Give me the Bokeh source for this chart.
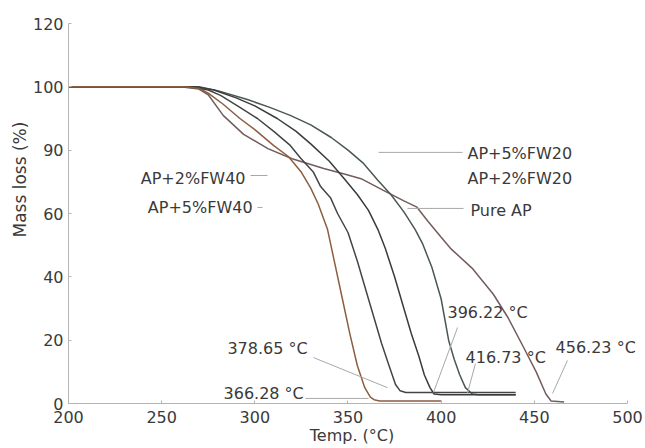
from bokeh.plotting import figure
from bokeh.models import Range1d, Label, FixedTicker, Title
from bokeh.embed import file_html
from bokeh.resources import INLINE

# ---- data ----
t_5fw40 = [200, 262, 270, 275, 283, 292, 300, 310, 318, 325, 330, 334, 339, 343, 347, 351, 355, 359, 362, 364, 367, 400]
m_5fw40 = [100, 100, 99.5, 98, 94.5, 90, 86.5, 81.5, 78, 73, 68, 63, 55, 44, 33, 22, 12, 5, 2, 1.2, 0.8, 0.8]

t_2fw40 = [200, 265, 275, 281.6, 292, 301.4, 310, 319, 324.5, 331.5, 335.3, 340.6, 344.4, 350, 355, 360, 365, 368, 372, 375.5, 378, 381, 440]
m_2fw40 = [100, 100, 99, 97.3, 93.5, 90, 86, 81.5, 77.5, 73, 68.5, 65, 60, 54, 45, 35, 25, 19, 12, 6, 4, 3.5, 3.5]

t_2fw20 = [200, 268, 278, 290, 300, 312, 322, 330, 340, 348, 355, 361, 366, 370, 375, 380, 384, 388, 391, 394, 396.2, 400, 440]
m_2fw20 = [100, 100, 99, 96.5, 94, 90, 86, 82, 76.5, 71, 66, 61, 55, 49, 40, 30, 22, 15, 9, 5, 3, 2.8, 2.8]

t_5fw20 = [200, 270, 280, 296, 308, 319, 330, 341, 350, 358, 366, 373, 380, 386, 390, 395, 400, 404, 407, 410, 413, 416.7, 420, 440]
m_5fw20 = [100, 100, 98.8, 96, 93.5, 91, 88, 84, 80, 76, 70.5, 66, 60.5, 55, 50.5, 43, 33, 20, 14, 9, 5, 3, 2.8, 2.8]

t_pure = [200, 260, 270, 275, 283, 294, 307, 320, 337, 348, 357, 369, 380, 387, 393, 400, 405, 417, 428, 436, 444, 451, 456.2, 459, 466]
m_pure = [100, 100, 99.3, 97.5, 91, 85, 80.5, 77.3, 74.2, 72.5, 71, 67.3, 64, 62, 57.5, 52.5, 49, 42.5, 34.5, 27, 18, 10, 3, 0.8, 0.5]

x_ticks = [200, 250, 300, 350, 400, 450, 500]
y_ticks = [0, 20, 40, 60, 80, 100, 120]
y_tick_labels = ["0", "20", "40", "60", "90", "100", "120"]

series_names = ["AP+5%FW20", "AP+2%FW20", "Pure AP", "AP+2%FW40", "AP+5%FW40"]
end_labels = ["396.22 °C", "416.73 °C", "456.23 °C", "378.65 °C", "366.28 °C"]

FONT = "DejaVu Sans"
TXT = "#3a3a3a"

p = figure(width=645, height=448, output_backend="svg", toolbar_location=None,
           x_range=Range1d(200, 504.3), y_range=Range1d(0, 120),
           min_border_left=68, min_border_right=10, min_border_top=23, min_border_bottom=45)
p.outline_line_color = None
p.xgrid.visible = False
p.ygrid.visible = False
p.background_fill_color = "white"

for ax in (p.xaxis[0], p.yaxis[0]):
    ax.axis_line_color = "#b5b5b5"
    ax.major_tick_line_color = "#b5b5b5"
    ax.major_tick_in = 3
    ax.major_tick_out = 0
    ax.minor_tick_line_color = None
    ax.major_label_text_font = FONT
    ax.major_label_text_font_size = "16px"
    ax.major_label_text_color = TXT

p.xaxis[0].bounds = (200, 500)
p.xaxis[0].ticker = FixedTicker(ticks=x_ticks)
p.yaxis[0].ticker = FixedTicker(ticks=y_ticks)
p.yaxis[0].major_label_overrides = {t: l for t, l in zip(y_ticks, y_tick_labels)}
p.xaxis[0].major_label_standoff = 7
p.yaxis[0].major_label_standoff = 5

p.xaxis[0].axis_label = "Temp. (°C)"
p.xaxis[0].axis_label_standoff = 0
p.xaxis[0].axis_label_text_font = FONT
p.xaxis[0].axis_label_text_font_size = "16px"
p.xaxis[0].axis_label_text_font_style = "normal"
p.xaxis[0].axis_label_text_color = TXT

p.add_layout(Title(text="Mass loss (%)", align="left", offset=166, standoff=0,
                   text_font=FONT, text_font_size="17px", text_font_style="normal",
                   text_color=TXT), "left")

# curves
p.line(t_pure, m_pure, line_color="#735c5c", line_width=1.5)
p.line(t_5fw20, m_5fw20, line_color="#4a5853", line_width=1.5)
p.line(t_2fw20, m_2fw20, line_color="#383c3e", line_width=1.5)
p.line(t_2fw40, m_2fw40, line_color="#454545", line_width=1.5)
p.line(t_5fw40, m_5fw40, line_color="#8c5e40", line_width=1.5)

# leader lines
lead_x0 = [366.4, 381.9, 297.7, 301.4, 408.8, 418.4, 467.8, 331.5, 327.2]
lead_y0 = [79.3, 61.6, 72.0, 61.9, 24.0, 12.6, 13.6, 14.5, 1.6]
lead_x1 = [411.5, 412.0, 306.8, 304.1, 395.9, 414.1, 459.8, 371.2, 361.0]
lead_y1 = [79.3, 61.6, 72.0, 61.9, 3.5, 3.2, 3.2, 5.0, 1.6]
p.segment(lead_x0, lead_y0, lead_x1, lead_y1, line_color="#a8a8a8", line_width=1)

def lab(x, y, text, align="left", size="16px"):
    p.add_layout(Label(x=x, y=y, text=text, text_font=FONT, text_font_size=size,
                       text_color=TXT, text_align=align, text_baseline="middle"))

# series labels
lab(414.1, 78.9, series_names[0])
lab(414.1, 71.1, series_names[1])
lab(415.7, 60.9, series_names[2])
lab(295.0, 71.1, series_names[3], align="right")
lab(298.8, 61.9, series_names[4], align="right")

# end temperatures
lab(403.4, 28.7, end_labels[0])
lab(413.1, 14.5, end_labels[1])
lab(461.4, 17.7, end_labels[2])
lab(285.3, 17.4, end_labels[3])
lab(283.2, 3.2, end_labels[4])

open("out.html", "w").write(file_html(p, INLINE))
